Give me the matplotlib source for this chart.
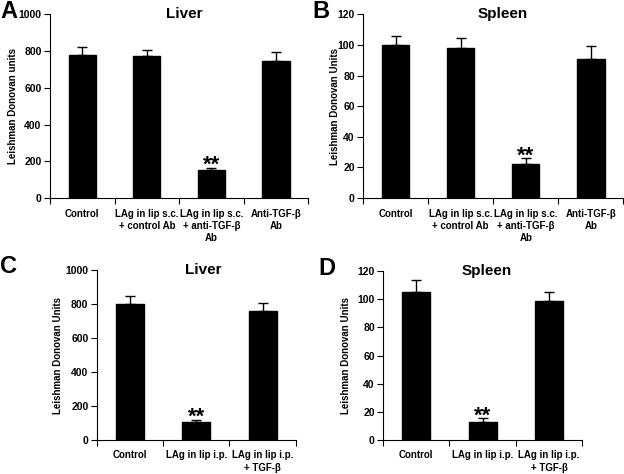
import matplotlib
matplotlib.use("Agg")
import matplotlib.pyplot as plt
import numpy as np

plt.rcParams['font.family'] = ['Liberation Sans', 'DejaVu Sans']
plt.rcParams['font.weight'] = 'bold'

# Panel A: Liver
a_cats = ["Control", "LAg in lip s.c.\n+ control Ab", "LAg in lip s.c.\n+ anti-TGF-β\nAb", "Anti-TGF-β\nAb"]
a_vals = [780, 775, 152, 745]
a_err = [40, 30, 13, 52]
# Panel B: Spleen
b_cats = a_cats
b_vals = [100, 98, 22, 91]
b_err = [6, 6.5, 4, 8]
# Panel C: Liver
c_cats = ["Control", "LAg in lip i.p.", "LAg in lip i.p.\n+ TGF-β"]
c_vals = [800, 105, 760]
c_err = [45, 15, 48]
# Panel D: Spleen
d_cats = c_cats
d_vals = [105, 13, 99]
d_err = [8.5, 2.5, 6]

panels = [
    dict(letter="A", title="Liver", cats=a_cats, vals=a_vals, err=a_err, ymax=1000, yticks=[0, 200, 400, 600, 800, 1000],
         ylabel="Leishman Donovan units", rect=[0.080, 0.582, 0.414, 0.388], star=2, tx=0.52,
         lpos=(0.0, 0.999), ylx=-0.125),
    dict(letter="B", title="Spleen", cats=b_cats, vals=b_vals, err=b_err, ymax=120, yticks=[0, 20, 40, 60, 80, 100, 120],
         ylabel="Leishman Donovan Units", rect=[0.582, 0.582, 0.417, 0.388], star=2, tx=0.535,
         lpos=(0.5, 0.999), ylx=-0.09),
    dict(letter="C", title="Liver", cats=c_cats, vals=c_vals, err=c_err, ymax=1000, yticks=[0, 200, 400, 600, 800, 1000],
         ylabel="Leishman Donovan Units", rect=[0.155, 0.0717, 0.319, 0.3586], star=1, tx=0.535,
         lpos=(0.0, 0.461), ylx=-0.17),
    dict(letter="D", title="Spleen", cats=d_cats, vals=d_vals, err=d_err, ymax=120, yticks=[0, 20, 40, 60, 80, 100, 120],
         ylabel="Leishman Donovan Units", rect=[0.614, 0.0717, 0.319, 0.3566], star=1, tx=0.52,
         lpos=(0.511, 0.457), ylx=-0.16),
]

fig = plt.figure(figsize=(6.24, 4.74), dpi=100)

for p in panels:
    ax = fig.add_axes(p["rect"])
    n = len(p["cats"])
    x = np.arange(n)
    ax.bar(x, p["vals"], width=0.42, color="black", edgecolor="black", zorder=2)
    ax.errorbar(x, p["vals"], yerr=[np.zeros(n), p["err"]], fmt="none", ecolor="black",
                elinewidth=1, capsize=3.5, capthick=1, zorder=1)
    ax.set_xlim(-0.5, n - 0.5)
    ax.set_ylim(0, p["ymax"])
    ax.set_yticks(p["yticks"])
    ax.set_yticklabels([str(t) for t in p["yticks"]], fontsize=7.5, fontweight="bold")
    ax.set_xticks(x)
    ax.set_xticklabels(p["cats"], fontsize=7, fontweight="bold", linespacing=1.3, va="top")
    ax.set_xticks(np.arange(n + 1) - 0.5, minor=True)
    ax.tick_params(axis="x", which="major", length=0, pad=7.5)
    ax.tick_params(axis="x", which="minor", length=4, width=0.8, direction="out")
    ax.tick_params(axis="y", length=4, width=0.8, direction="out", pad=2)
    for s in ["top", "right"]:
        ax.spines[s].set_visible(False)
    for s in ["left", "bottom"]:
        ax.spines[s].set_linewidth(0.8)
    ax.set_ylabel(p["ylabel"], fontsize=7, fontweight="bold")
    ax.yaxis.set_label_coords(p["ylx"], 0.5)
    ax.text(p["tx"], 1.0, p["title"], transform=ax.transAxes, ha="center", va="center",
            fontsize=11, fontweight="bold")
    i = p["star"]
    ax.annotate("**", xy=(i, p["vals"][i] + p["err"][i]), xytext=(0, -6), textcoords="offset points",
                ha="center", va="bottom", fontsize=16, fontweight="bold")
    fig.text(p["lpos"][0], p["lpos"][1], p["letter"], fontsize=17, fontweight="bold", ha="left", va="top")

fig.savefig("out.png", dpi=100)
